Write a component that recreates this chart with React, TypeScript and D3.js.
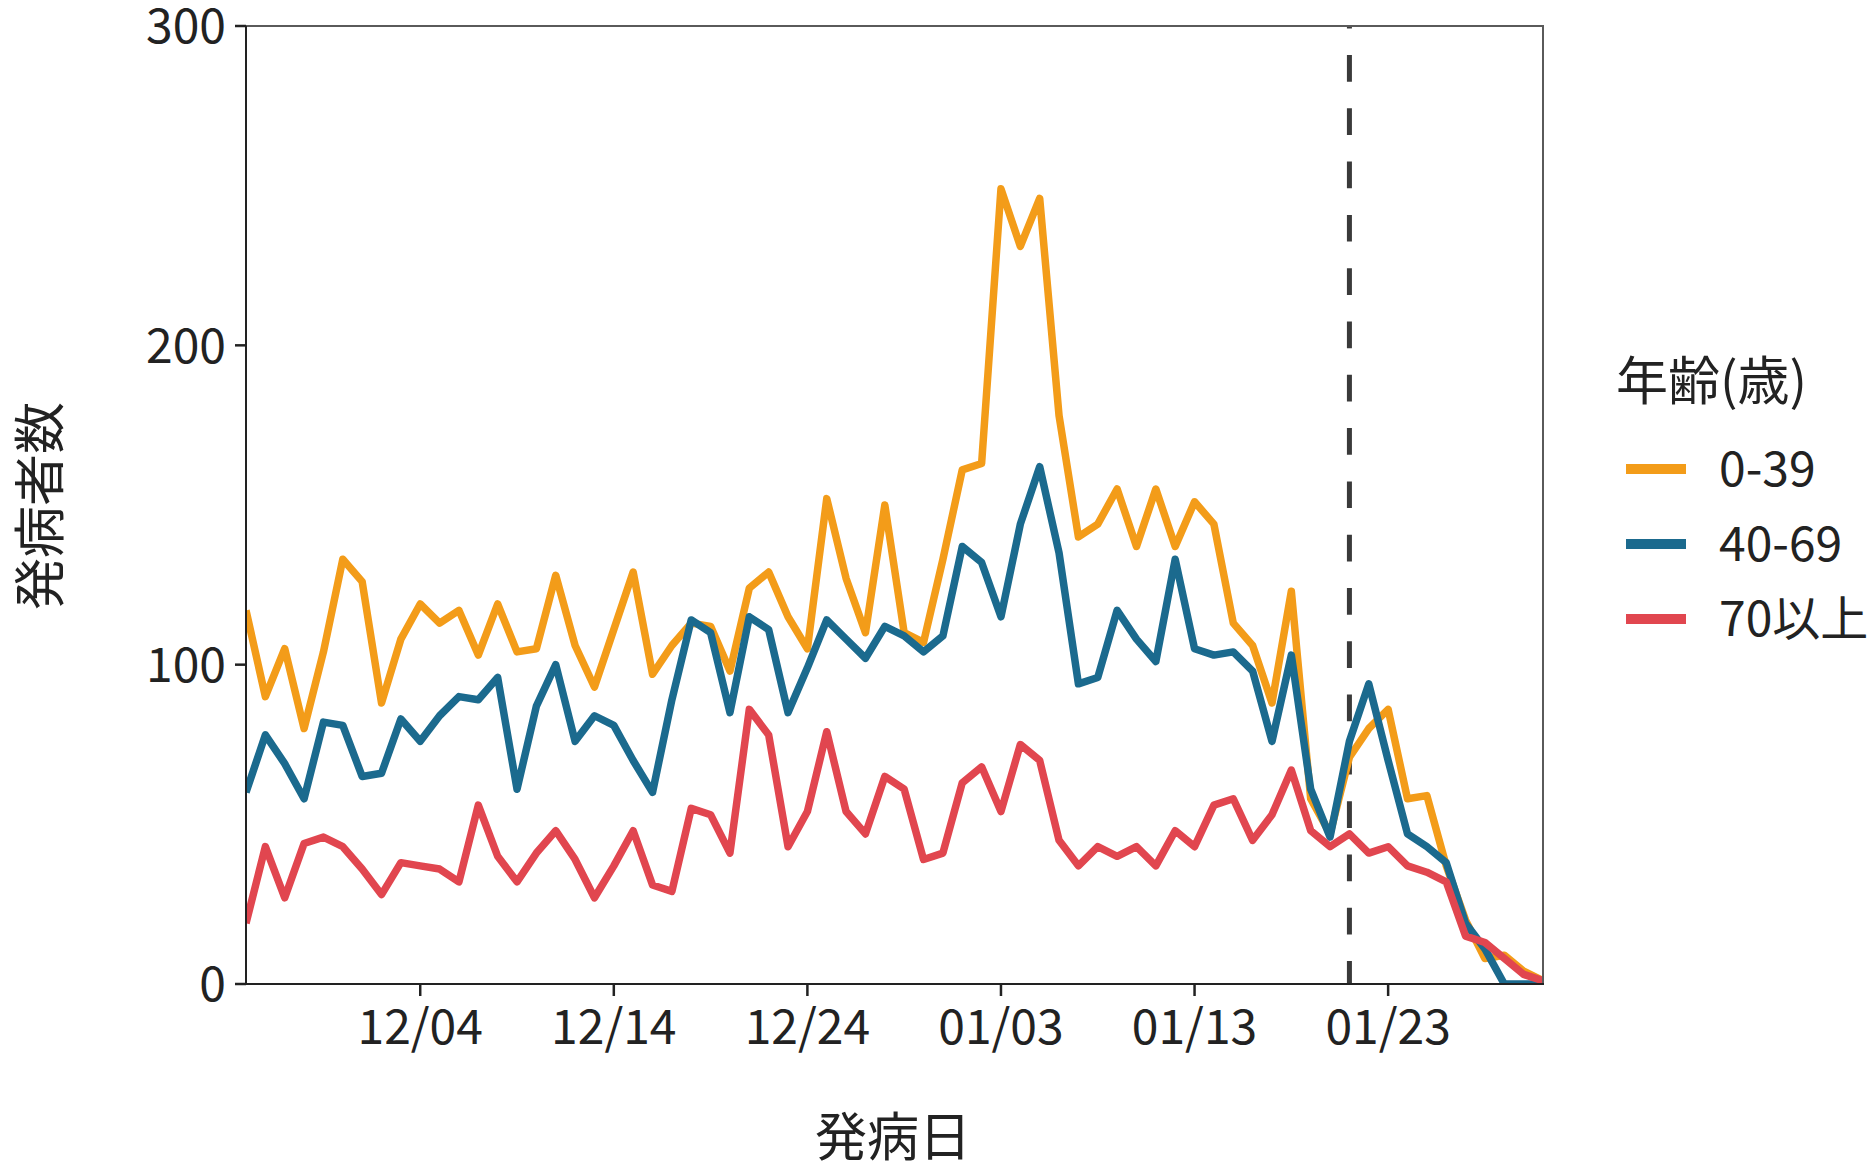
import React from "react";
import * as d3 from "d3";

const startDate = "2020-11-25";
const endDate = "2021-01-31";
const cutoffDate = "2021-01-21";

const seriesNames = ["0-39", "40-69", "70以上"];
const seriesColors = ["#F39C19", "#1B6A8E", "#E1464F"];

const age0to39 = [117, 90, 105, 80, 104, 133, 126, 88, 108, 119, 113, 117, 103, 119, 104, 105, 128, 106, 93, 111,
  129, 97, 106, 113, 112, 98, 124, 129, 115, 105, 152, 127, 110, 150, 110, 107, 133, 161, 163, 249,
  231, 246, 178, 140, 144, 155, 137, 155, 137, 151, 144, 113, 106, 88, 123, 58, 47, 71, 80, 86,
  58, 59, 37, 20, 8, 9, 4, 1];
const age40to69 = [60, 78, 69, 58, 82, 81, 65, 66, 83, 76, 84, 90, 89, 96, 61, 87, 100, 76, 84, 81,
  70, 60, 89, 114, 110, 85, 115, 111, 85, 99, 114, 108, 102, 112, 109, 104, 109, 137, 132, 115,
  144, 162, 135, 94, 96, 117, 108, 101, 133, 105, 103, 104, 98, 76, 103, 61, 46, 76, 94, 70,
  47, 43, 38, 19, 11, 0, 0, 0];
const age70plus = [19, 43, 27, 44, 46, 43, 36, 28, 38, 37, 36, 32, 56, 40, 32, 41, 48, 39, 27, 37,
  48, 31, 29, 55, 53, 41, 86, 78, 43, 54, 79, 54, 47, 65, 61, 39, 41, 63, 68, 54,
  75, 70, 45, 37, 43, 40, 43, 37, 48, 43, 56, 58, 45, 53, 67, 48, 43, 47, 41, 43,
  37, 35, 32, 15, 13, 8, 3, 1];

const xTickDates = ["2020-12-04", "2020-12-14", "2020-12-24", "2021-01-03", "2021-01-13", "2021-01-23"];
const yTicks = [0, 100, 200, 300];

const legendTitle = "年齢(歳)";
const xTitle = "発病日";
const yTitle = "発病者数";

const W = 1868;
const H = 1169;
const panel = { left: 246, right: 1543, top: 26, bottom: 984 };
const FONT = "'Noto Sans CJK JP', 'Noto Sans', sans-serif";

const parse = d3.utcParse("%Y-%m-%d");

export default function App() {
  const start = parse(startDate)!;
  const end = parse(endDate)!;
  const dates = d3.utcDay.range(start, d3.utcDay.offset(end, 1));
  const series = [age0to39, age40to69, age70plus];

  const x = d3.scaleUtc().domain([start, end]).range([panel.left, panel.right]);
  const y = d3.scaleLinear().domain([0, 300]).range([panel.bottom, panel.top]);
  const line = d3
    .line<number>()
    .x((_, i) => x(dates[i]))
    .y((v) => y(v));
  const fmt = d3.utcFormat("%m/%d");
  const cx = x(parse(cutoffDate)!);

  const legendY = [469, 544, 619];

  return (
    <svg
      width={W}
      height={H}
      style={{ position: "absolute", left: 0, top: 0, background: "#fff" }}
      fontFamily={FONT}
    >
      <rect x={0} y={0} width={W} height={H} fill="#fff" />
      <defs>
        <clipPath id="pclip">
          <rect x={panel.left} y={panel.top} width={panel.right - panel.left} height={panel.bottom - panel.top} />
        </clipPath>
      </defs>

      {/* dashed cutoff line */}
      <line
        x1={cx}
        x2={cx}
        y1={panel.top}
        y2={panel.bottom}
        stroke="#3a3a3a"
        strokeWidth={5}
        strokeDasharray="26.7 26.6"
        strokeDashoffset={24.3}
      />

      {/* series */}
      <g clipPath="url(#pclip)">
        {series.map((s, k) => (
          <path
            key={k}
            d={line(s) || ""}
            fill="none"
            stroke={seriesColors[k]}
            strokeWidth={7.5}
            strokeLinejoin="round"
            strokeLinecap="butt"
          />
        ))}
      </g>

      {/* panel border */}
      <rect
        x={panel.left}
        y={panel.top}
        width={panel.right - panel.left}
        height={panel.bottom - panel.top}
        fill="none"
        stroke="#5a5a5a"
        strokeWidth={2}
      />
      <line x1={panel.left} x2={panel.left} y1={panel.top} y2={panel.bottom + 1} stroke="#222" strokeWidth={2} />
      <line x1={panel.left - 1} x2={panel.right + 1} y1={panel.bottom} y2={panel.bottom} stroke="#222" strokeWidth={2} />

      {/* y axis */}
      {yTicks.map((t) => (
        <g key={t}>
          <line x1={panel.left - 11} x2={panel.left} y1={y(t)} y2={y(t)} stroke="#222" strokeWidth={2.5} />
          <text x={panel.left - 20} y={y(t)} dy="0.36em" textAnchor="end" fontSize={48} fill="#222">
            {t}
          </text>
        </g>
      ))}

      {/* x axis */}
      {xTickDates.map((d) => {
        const xx = x(parse(d)!);
        return (
          <g key={d}>
            <line x1={xx} x2={xx} y1={panel.bottom} y2={panel.bottom + 12} stroke="#222" strokeWidth={2.5} />
            <text x={xx} y={1044} textAnchor="middle" fontSize={48} fill="#222">
              {fmt(parse(d)!)}
            </text>
          </g>
        );
      })}

      {/* axis titles */}
      <text x={893} y={1156} textAnchor="middle" fontSize={52} fill="#222">
        {xTitle}
      </text>
      <text
        transform={`translate(36, 506) rotate(-90)`}
        textAnchor="middle"
        dominantBaseline="central"
        fontSize={52}
        fill="#222"
      >
        {yTitle}
      </text>

      {/* legend */}
      <text x={1616} y={400} fontSize={52} fill="#222">
        {legendTitle}
      </text>
      {seriesNames.map((n, k) => (
        <g key={n}>
          <line x1={1626} x2={1686} y1={legendY[k]} y2={legendY[k]} stroke={seriesColors[k]} strokeWidth={10} />
          <text x={1719} y={legendY[k]} dy="0.36em" fontSize={48} fill="#222">
            {n}
          </text>
        </g>
      ))}
    </svg>
  );
}
